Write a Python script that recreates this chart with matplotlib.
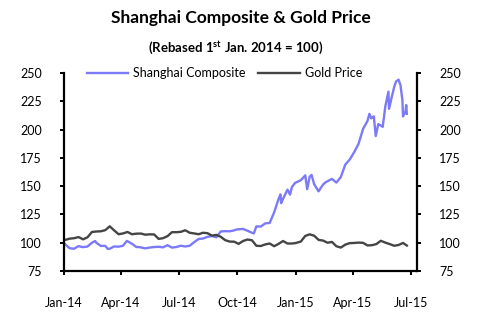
import matplotlib
matplotlib.use("Agg")
import matplotlib.pyplot as plt
import matplotlib.dates as mdates
import pandas as pd

plt.rcParams['font.family'] = ['Lato', 'DejaVu Sans']
plt.rcParams['mathtext.fontset'] = 'custom'
plt.rcParams['mathtext.rm'] = 'Lato'
plt.rcParams['mathtext.bf'] = 'Lato:bold'

# Shanghai Composite, rebased (1 Jan 2014 = 100)
sse_dates = [
    "2014-01-01", "2014-01-03", "2014-01-10", "2014-01-17", "2014-01-24", "2014-01-30",
    "2014-02-07", "2014-02-14", "2014-02-19", "2014-02-21", "2014-02-28", "2014-03-07",
    "2014-03-11", "2014-03-14", "2014-03-21", "2014-03-28", "2014-04-04", "2014-04-10",
    "2014-04-18", "2014-04-25", "2014-04-30", "2014-05-09", "2014-05-16", "2014-05-23",
    "2014-05-30", "2014-06-06", "2014-06-13", "2014-06-20", "2014-06-27", "2014-07-04",
    "2014-07-11", "2014-07-18", "2014-07-25", "2014-08-01", "2014-08-08", "2014-08-15",
    "2014-08-22", "2014-08-29", "2014-09-05", "2014-09-12", "2014-09-19", "2014-09-26",
    "2014-09-30", "2014-10-10", "2014-10-17", "2014-10-24", "2014-10-27", "2014-10-31",
    "2014-11-07", "2014-11-14", "2014-11-21", "2014-11-28", "2014-12-05", "2014-12-08",
    "2014-12-09", "2014-12-12", "2014-12-19", "2014-12-23", "2014-12-26", "2014-12-31",
    "2015-01-09", "2015-01-16", "2015-01-19", "2015-01-23", "2015-01-26", "2015-01-30",
    "2015-02-06", "2015-02-13", "2015-02-17", "2015-02-27", "2015-03-06", "2015-03-13",
    "2015-03-20", "2015-03-27", "2015-04-03", "2015-04-10", "2015-04-17", "2015-04-24",
    "2015-04-27", "2015-04-30", "2015-05-04", "2015-05-07", "2015-05-11", "2015-05-15",
    "2015-05-18", "2015-05-22", "2015-05-27", "2015-05-28", "2015-06-01", "2015-06-05",
    "2015-06-08", "2015-06-12", "2015-06-15", "2015-06-18", "2015-06-19", "2015-06-23",
    "2015-06-24", "2015-06-25",
]
sse_values = [
    100.0, 98.4, 95.1, 94.7, 97.0, 96.1,
    96.6, 100.0, 101.5, 99.9, 97.2, 97.2,
    94.5, 94.7, 96.7, 96.5, 97.3, 101.6,
    99.1, 96.2, 96.1, 95.0, 95.7, 96.2,
    96.4, 95.9, 97.8, 95.7, 96.2, 97.3,
    96.7, 97.3, 100.5, 103.3, 103.7, 105.2,
    105.9, 104.8, 110.0, 110.2, 110.1, 110.9,
    111.7, 112.2, 110.6, 108.8, 108.2, 114.4,
    114.3, 117.1, 117.5, 126.8, 138.8, 142.7,
    135.0, 138.8, 146.9, 142.5, 149.2, 152.9,
    155.2, 159.5, 147.3, 158.4, 159.9, 151.7,
    145.4, 151.4, 153.4, 156.4, 153.2, 158.0,
    169.0, 173.5, 180.0, 187.5, 200.5, 207.6,
    213.9, 209.9, 211.7, 194.3, 204.8, 203.6,
    202.4, 220.1, 233.5, 218.3, 228.2, 237.4,
    242.5, 244.1, 239.2, 226.1, 211.6, 216.2,
    221.7, 213.9,
]

# Gold price, rebased (1 Jan 2014 = 100)
gold_dates = [
    "2014-01-01", "2014-01-03", "2014-01-10", "2014-01-17", "2014-01-24", "2014-01-31",
    "2014-02-07", "2014-02-14", "2014-02-21", "2014-02-28", "2014-03-07", "2014-03-14",
    "2014-03-21", "2014-03-28", "2014-04-04", "2014-04-11", "2014-04-18", "2014-04-25",
    "2014-05-02", "2014-05-09", "2014-05-16", "2014-05-23", "2014-05-30", "2014-06-06",
    "2014-06-13", "2014-06-20", "2014-06-27", "2014-07-04", "2014-07-11", "2014-07-18",
    "2014-07-25", "2014-08-01", "2014-08-08", "2014-08-15", "2014-08-22", "2014-08-29",
    "2014-09-05", "2014-09-12", "2014-09-19", "2014-09-26", "2014-10-03", "2014-10-10",
    "2014-10-17", "2014-10-24", "2014-10-31", "2014-11-07", "2014-11-14", "2014-11-21",
    "2014-11-28", "2014-12-05", "2014-12-12", "2014-12-19", "2014-12-26", "2014-12-31",
    "2015-01-09", "2015-01-16", "2015-01-23", "2015-01-30", "2015-02-06", "2015-02-13",
    "2015-02-20", "2015-02-27", "2015-03-06", "2015-03-13", "2015-03-20", "2015-03-27",
    "2015-04-03", "2015-04-10", "2015-04-17", "2015-04-24", "2015-05-01", "2015-05-08",
    "2015-05-15", "2015-05-22", "2015-05-29", "2015-06-05", "2015-06-12", "2015-06-19",
    "2015-06-25",
]
gold_values = [
    102.0, 102.5, 103.6, 104.0, 105.0, 103.0,
    104.8, 109.5, 109.9, 110.1, 111.1, 114.5,
    110.9, 107.5, 108.2, 109.5, 107.5, 108.0,
    108.1, 107.1, 107.4, 107.3, 103.4, 104.0,
    105.8, 109.3, 109.3, 109.6, 111.0, 108.8,
    108.2, 107.5, 108.8, 108.4, 106.3, 106.9,
    105.2, 102.2, 101.0, 100.9, 99.0, 101.5,
    102.8, 102.2, 97.3, 97.1, 98.5, 99.3,
    96.9, 99.0, 101.5, 99.3, 99.3, 99.6,
    101.0, 106.0, 107.4, 106.2, 102.5, 101.9,
    100.0, 100.7, 96.9, 95.7, 98.3, 99.6,
    99.8, 100.1, 99.9, 97.6, 97.8, 98.8,
    101.7, 100.1, 98.8, 97.3, 98.0, 99.8,
    97.5,
]

y_ticks = [75, 100, 125, 150, 175, 200, 225, 250]

fig = plt.figure(figsize=(4.81, 3.21), dpi=100)
ax = fig.add_axes([64 / 481, 1 - 271 / 321, 353 / 481, 198 / 321])

ax.plot(pd.to_datetime(sse_dates), sse_values, color="#7b7bf7", lw=1.7,
        label="Shanghai Composite")
ax.plot(pd.to_datetime(gold_dates), gold_values, color="#454545", lw=1.7,
        label="Gold Price")

ax.set_ylim(75, 250)
ax.set_yticks(y_ticks)
ax.set_xlim(pd.Timestamp("2014-01-01"), pd.Timestamp("2015-07-11"))
ax.xaxis.set_major_locator(mdates.MonthLocator(bymonth=[1, 4, 7, 10]))
ax.xaxis.set_major_formatter(mdates.DateFormatter("%b-%y"))

ax.spines["top"].set_visible(False)
for side in ("left", "right", "bottom"):
    ax.spines[side].set_linewidth(1.6)
    ax.spines[side].set_color("black")

ax.tick_params(axis="y", which="both", direction="out", length=3, width=1.4,
               left=True, right=True, labelleft=True, labelright=True,
               labelsize=9, pad=13)
ax.tick_params(axis="x", direction="out", length=3, width=1.4,
               labelsize=9, pad=16)

ax.legend(loc="center", bbox_to_anchor=(0.455, 1.0), ncol=2, frameon=False,
          fontsize=9, handlelength=3.3, columnspacing=1.0, handletextpad=0.4)

fig.text(0.5, 1 - 18 / 321, "Shanghai Composite & Gold Price", ha="center",
         va="center", fontsize=12.5, fontweight="bold")
fig.text(0.49, 1 - 48 / 321, r"(Rebased 1$^{\mathbf{st}}$ Jan. 2014 = 100)",
         ha="center", va="center", fontsize=9.5, fontweight="bold")

fig.savefig("out.png", dpi=100)
